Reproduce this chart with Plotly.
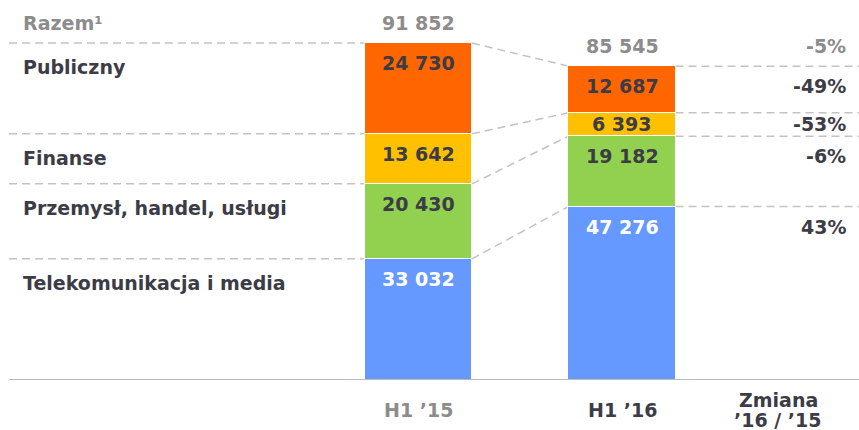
import plotly.graph_objects as go

periods = ["H1 \u201915", "H1 \u201916"]
segments = ["Telekomunikacja i media", "Przemysł, handel, usługi", "Finanse", "Publiczny"]
values_h1_15 = [33032, 20430, 13642, 24730]
values_h1_16 = [47276, 19182, 6393, 12687]
totals = [91852, 85545]
changes = ["43%", "-6%", "-53%", "-49%"]
total_change = "-5%"
total_label = "Razem\u00b9"
change_header = ["Zmiana", "\u201916 / \u201915"]
colors = ["#6699FF", "#92D050", "#FFC000", "#FF6600"]
text_colors = ["#FFFFFF", "#3C3C46", "#3C3C46", "#3C3C46"]

W, H = 859, 430
PLOT_H = 380
Y_MAX = 103570
px_per_unit = PLOT_H / Y_MAX
BAR_W = 0.526
X_RANGE = [-2.0565, 2.1646]
DARK = "#3C3C46"
GREY = "#8C8C8C"
DASH = "#C3C3C3"
FONT = "DejaVu Sans"
FS = 19
LEFT_X = 21 / W
RIGHT_X = 848 / W


def fmt(v):
    return f"{v:,}".replace(",", " ")


def xpaper(xd):
    return (xd - X_RANGE[0]) / (X_RANGE[1] - X_RANGE[0])


fig = go.Figure()
for i, seg in enumerate(segments):
    fig.add_trace(go.Bar(
        x=[0, 1], y=[values_h1_15[i], values_h1_16[i]], name=seg,
        width=BAR_W, marker=dict(color=colors[i], line=dict(color="white", width=1)),
        hoverinfo="skip", showlegend=False,
    ))

annotations = []
shapes = []


def cum(vals):
    out, s = [], 0
    for v in vals:
        s += v
        out.append(s)
    return out


tops1 = cum(values_h1_15)
tops2 = cum(values_h1_16)
dash = dict(color=DASH, width=1.5, dash="8px,5px")

for i in range(len(segments)):
    for xi, vals, tops in ((0, values_h1_15, tops1), (1, values_h1_16, tops2)):
        seg_px = vals[i] * px_per_unit
        shift = min(20, seg_px / 2)
        annotations.append(dict(
            x=xi, y=tops[i], xref="x", yref="y", text=f"<b>{fmt(vals[i])}</b>",
            showarrow=False, xanchor="center", yanchor="middle", yshift=-shift,
            font=dict(family=FONT, size=FS, color=text_colors[i]),
        ))
    annotations.append(dict(
        x=LEFT_X, y=tops1[i], xref="paper", yref="y", text=f"<b>{segments[i]}</b>",
        showarrow=False, xanchor="left", yanchor="middle", yshift=-24,
        font=dict(family=FONT, size=FS, color=DARK),
    ))
    seg_px = values_h1_16[i] * px_per_unit
    annotations.append(dict(
        x=RIGHT_X, y=tops2[i], xref="paper", yref="y", text=f"<b>{changes[i]}</b>",
        showarrow=False, xanchor="right", yanchor="middle", yshift=-min(20, seg_px / 2),
        font=dict(family=FONT, size=FS, color=DARK),
    ))
    shapes.append(dict(type="line", xref="paper", yref="y", x0=9 / W, x1=xpaper(-BAR_W / 2),
                       y0=tops1[i], y1=tops1[i], line=dash, layer="below"))
    shapes.append(dict(type="line", xref="x", yref="y", x0=BAR_W / 2, x1=1 - BAR_W / 2,
                       y0=tops1[i], y1=tops2[i], line=dash, layer="below"))
    shapes.append(dict(type="line", xref="paper", yref="y", x0=xpaper(1 + BAR_W / 2), x1=1,
                       y0=tops2[i], y1=tops2[i], line=dash, layer="below"))

annotations.append(dict(x=0, y=tops1[-1], xref="x", yref="y", text=f"<b>{fmt(totals[0])}</b>",
                        showarrow=False, xanchor="center", yanchor="middle", yshift=20,
                        font=dict(family=FONT, size=FS, color=GREY)))
annotations.append(dict(x=1, y=tops2[-1], xref="x", yref="y", text=f"<b>{fmt(totals[1])}</b>",
                        showarrow=False, xanchor="center", yanchor="middle", yshift=20,
                        font=dict(family=FONT, size=FS, color=GREY)))
annotations.append(dict(x=RIGHT_X, y=tops2[-1], xref="paper", yref="y", text=f"<b>{total_change}</b>",
                        showarrow=False, xanchor="right", yanchor="middle", yshift=20,
                        font=dict(family=FONT, size=FS, color=GREY)))
annotations.append(dict(x=LEFT_X, y=tops1[-1], xref="paper", yref="y",
                        text=f"<b>{total_label}</b>",
                        showarrow=False, xanchor="left", yanchor="middle", yshift=20,
                        font=dict(family=FONT, size=FS, color=GREY)))

annotations.append(dict(x=0, y=-30 / PLOT_H, xref="x", yref="paper", text=f"<b>{periods[0]}</b>",
                        showarrow=False, xanchor="center", yanchor="middle",
                        font=dict(family=FONT, size=FS, color=GREY)))
annotations.append(dict(x=1, y=-30 / PLOT_H, xref="x", yref="paper", text=f"<b>{periods[1]}</b>",
                        showarrow=False, xanchor="center", yanchor="middle",
                        font=dict(family=FONT, size=FS, color=DARK)))
for line, yy in zip(change_header, (-20, -39.5)):
    annotations.append(dict(x=778 / W, y=yy / PLOT_H, xref="paper", yref="paper",
                            text=f"<b>{line}</b>", showarrow=False,
                            xanchor="center", yanchor="middle",
                            font=dict(family=FONT, size=FS, color=DARK)))

shapes.append(dict(type="line", xref="paper", yref="y", x0=9 / W, x1=1, y0=0, y1=0,
                   line=dict(color="#A6A6A6", width=1.5)))

fig.update_layout(
    width=W, height=H, barmode="stack",
    margin=dict(l=0, r=0, t=0, b=H - PLOT_H),
    plot_bgcolor="white", paper_bgcolor="white",
    xaxis=dict(range=X_RANGE, visible=False, fixedrange=True),
    yaxis=dict(range=[0, Y_MAX], visible=False, fixedrange=True),
    annotations=annotations, shapes=shapes, bargap=0,
)
fig.write_html("out.html", config={"displayModeBar": False},
               post_script="document.body.style.margin='0';document.body.style.overflow='hidden';")
